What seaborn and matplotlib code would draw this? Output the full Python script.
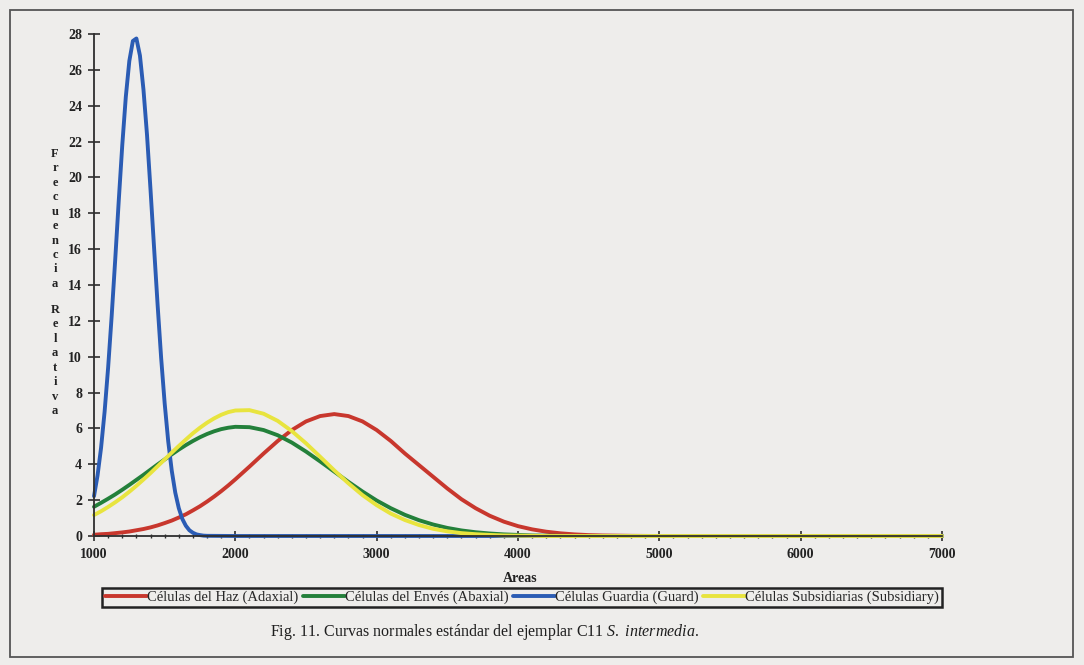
import pandas as pd
import matplotlib
matplotlib.use("Agg")
import matplotlib.pyplot as plt
import seaborn as sns
from matplotlib.patches import Rectangle

sns.set_style("ticks")
plt.rcParams['font.family'] = ['Liberation Serif', 'DejaVu Serif']
plt.rcParams['mathtext.fontset'] = 'custom'
plt.rcParams['mathtext.rm'] = 'Liberation Serif'
plt.rcParams['mathtext.it'] = 'Liberation Serif:italic'

# Areas (x) - finer step where the curves are steep
areas = [1000, 1050, 1100, 1150, 1200, 1250, 1300, 1350, 1400, 1450,
         1500, 1550, 1600, 1650, 1700, 1750, 1800, 1850, 1900, 1950, 2000,
         2100, 2200, 2300, 2400, 2500, 2600, 2700, 2800, 2900, 3000,
         3100, 3200, 3300, 3400, 3500, 3600, 3700, 3800, 3900, 4000,
         4100, 4200, 4300, 4400, 4500, 4600, 4700, 4800,
         5000, 6000, 7000]
# the guard-cell peak is narrow, so it gets its own finer x list
areas_guardia = [1000, 1025, 1050, 1075, 1100, 1125, 1150, 1175, 1200,
                 1225, 1250, 1275, 1300, 1325, 1350, 1375, 1400, 1425,
                 1450, 1475, 1500, 1525, 1550, 1575, 1600, 1625, 1650,
                 1675, 1700, 1725, 1750, 1775, 1800,
                 2000, 3000, 4000, 5000, 6000, 7000]

# Frecuencia relativa
haz = [0.07, 0.10, 0.12, 0.16, 0.20, 0.25, 0.32, 0.39, 0.48, 0.59,
       0.72, 0.86, 1.03, 1.21, 1.43, 1.66, 1.92, 2.20, 2.50, 2.82, 3.16,
       3.87, 4.60, 5.30, 5.91, 6.39, 6.69, 6.80, 6.69, 6.39, 5.91,
       5.30, 4.60, 3.95, 3.30, 2.65, 2.05, 1.55, 1.13, 0.80, 0.55,
       0.37, 0.24, 0.15, 0.09, 0.05, 0.03, 0.02, 0.01,
       0.0, 0.0, 0.0]
enves = [1.63, 1.85, 2.08, 2.32, 2.58, 2.85, 3.13, 3.41, 3.70, 3.99,
         4.27, 4.55, 4.82, 5.07, 5.30, 5.51, 5.69, 5.84, 5.96, 6.04, 6.09,
         6.07, 5.91, 5.62, 5.21, 4.71, 4.16, 3.59, 3.02, 2.48, 1.98,
         1.55, 1.18, 0.88, 0.64, 0.45, 0.31, 0.21, 0.14, 0.09, 0.06,
         0.03, 0.02, 0.01, 0.0, 0.0, 0.0, 0.0, 0.0,
         0.0, 0.0, 0.0]
guardia = [2.22, 3.37, 4.92, 6.93, 9.40, 12.27, 15.4, 18.69, 21.8,
           24.49, 26.5, 27.61, 27.75, 26.80, 24.9, 22.38, 19.3, 16.08,
           12.9, 9.94, 7.4, 5.29, 3.65, 2.42, 1.55, 0.95, 0.57,
           0.32, 0.18, 0.09, 0.05, 0.02, 0.01,
           0.0, 0.0, 0.0, 0.0, 0.0, 0.0]
subsid = [1.17, 1.38, 1.62, 1.88, 2.16, 2.47, 2.80, 3.15, 3.51, 3.89,
          4.27, 4.65, 5.02, 5.38, 5.73, 6.04, 6.32, 6.56, 6.76, 6.91, 7.00,
          7.02, 6.82, 6.42, 5.85, 5.17, 4.42, 3.66, 2.94, 2.28, 1.72,
          1.25, 0.89, 0.61, 0.40, 0.26, 0.16, 0.10, 0.06, 0.03, 0.02,
          0.01, 0.0, 0.0, 0.0, 0.0, 0.0, 0.0, 0.0,
          0.0, 0.0, 0.0]

series_names = ['Células del Haz (Adaxial)', 'Células del Envés (Abaxial)',
                'Células Guardia (Guard)', 'Células Subsidiarias (Subsidiary)']
colors = ['#c8372d', '#23803a', '#2b5cb4', '#e8e43e']
x_ticks = [1000, 2000, 3000, 4000, 5000, 6000, 7000]
y_ticks = list(range(0, 29, 2))

df = pd.concat([
    pd.DataFrame({'area': xs, 'freq': vals, 'serie': name})
    for name, xs, vals in zip(series_names,
                              [areas, areas, areas_guardia, areas],
                              [haz, enves, guardia, subsid])
])

bg = '#eeedeb'
fig = plt.figure(figsize=(10.84, 6.65), dpi=100, facecolor=bg)
ax = fig.add_axes([94 / 1084, 1 - 536 / 665, 848 / 1084, 502 / 665])
ax.set_facecolor('none')

sns.lineplot(data=df, x='area', y='freq', hue='serie', hue_order=series_names,
             palette=colors, linewidth=2.8, ax=ax, clip_on=False)

ax.set_xlim(1000, 7000)
ax.set_ylim(0, 28)
ax.set_xticks(x_ticks)
ax.set_xticks(range(1000, 7001, 100), minor=True)
ax.set_yticks(y_ticks)
ax.set_xlabel('')
ax.set_ylabel('')

for s in ['top', 'right']:
    ax.spines[s].set_visible(False)
for s in ['left', 'bottom']:
    ax.spines[s].set_color('#2e2e2e')
    ax.spines[s].set_linewidth(1.3)

ax.tick_params(axis='y', direction='inout', length=9, width=1.2,
               labelsize=10, pad=4, colors='#2e2e2e', labelcolor='#222222')
ax.tick_params(axis='x', which='major', direction='inout', length=7, width=1.2,
               labelsize=10, pad=5, colors='#2e2e2e', labelcolor='#222222')
ax.tick_params(axis='x', which='minor', direction='inout', length=3, width=1.0,
               colors='#2e2e2e')
plt.setp(ax.get_xticklabels() + ax.get_yticklabels(), fontweight='bold')

# vertical stacked axis title, one letter per line
fig.text(55 / 1084, 1 - 148 / 665, '\n'.join('Frecuencia'), ha='center', va='top',
         fontsize=9, fontweight='bold', linespacing=1.27, color='#222222')
fig.text(55 / 1084, 1 - 304 / 665, '\n'.join('Relativa'), ha='center', va='top',
         fontsize=9, fontweight='bold', linespacing=1.27, color='#222222')

fig.text(520 / 1084, 1 - 578 / 665, 'Areas', ha='center', va='center',
         fontsize=10, fontweight='bold', color='#222222')

handles, labels = ax.get_legend_handles_labels()
ax.get_legend().remove()
leg = fig.legend(handles, labels, loc='center', ncol=4,
                 bbox_to_anchor=(522 / 1084, 1 - 597.5 / 665),
                 fontsize=10.5, handlelength=2.9, handletextpad=0.0,
                 columnspacing=0.3, borderpad=0.2, fancybox=False,
                 edgecolor='#222222', facecolor=bg, framealpha=1)
leg.get_frame().set_linewidth(1.8)

fig.text(485 / 1084, 1 - 632 / 665,
         r'Fig. 11. Curvas normales estándar del ejemplar C11 $\mathit{S.\ intermedia.}$',
         ha='center', va='center', fontsize=11.5, color='#1e1e1e')

fig.add_artist(Rectangle((10 / 1084, 1 - 657 / 665), 1063 / 1084, 647 / 665,
                         transform=fig.transFigure, fill=False,
                         edgecolor='#555555', linewidth=1.3))

fig.savefig('out.png', dpi=100, facecolor=bg)
